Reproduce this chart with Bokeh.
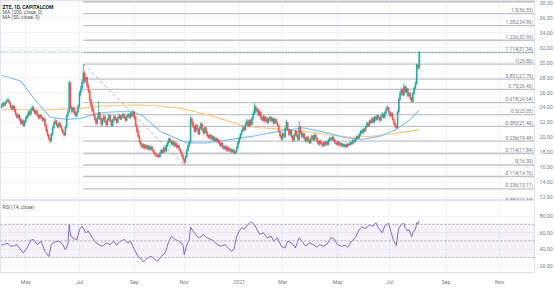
from bokeh.plotting import figure
from bokeh.layouts import column
from bokeh.models import ColumnDataSource, FixedTicker, PrintfTickFormatter, Range1d, Span, BoxAnnotation, Label
from bokeh.core.properties import value
from bokeh.embed import file_html
from bokeh.resources import INLINE

# ---------------- data ----------------
first_open = 24.0
closes = [
    24.2,24.6,24.3,24.7,24.9,25.0,24.6,24.1,23.8,24.2,
    23.6,23.1,22.7,23.0,22.4,21.9,22.2,21.6,22.1,22.6,
    22.9,23.4,23.1,23.7,24.0,23.6,23.2,23.5,22.9,22.6,
    23.0,22.7,22.3,22.5,21.6,20.9,20.3,19.8,19.5,20.4,
    21.3,21.9,22.2,21.7,21.4,21.9,21.5,21.0,20.6,20.3,
    21.4,22.9,23.4,27.3,24.0,23.5,23.9,23.2,22.9,23.4,
    24.2,25.9,26.5,27.4,28.6,27.6,28.0,26.9,26.2,25.0,
    24.3,23.6,23.0,22.4,21.9,22.6,23.3,22.5,21.8,22.3,
    22.8,22.1,21.7,22.4,22.9,22.2,21.6,22.3,22.8,22.4,
    22.0,22.6,22.9,22.5,22.8,23.1,22.6,22.3,22.8,23.0,
    22.7,23.2,22.9,23.4,22.6,21.6,20.8,20.1,19.4,19.0,
    18.7,19.0,18.6,18.9,18.5,18.8,18.4,18.7,18.3,18.0,
    17.8,17.5,17.6,17.4,17.9,18.3,18.0,18.6,18.2,18.9,
    19.3,19.8,19.5,19.1,19.4,18.9,19.2,18.7,18.9,18.4,
    18.1,17.6,17.1,16.7,17.4,18.3,18.9,19.4,22.5,22.0,
    21.4,20.8,21.6,21.1,20.5,21.2,21.8,21.0,20.6,21.3,
    20.7,20.2,20.0,20.3,19.8,20.1,19.6,19.9,19.5,19.7,
    19.3,18.9,19.2,18.7,18.5,18.8,18.3,18.6,18.2,18.4,
    18.1,18.3,17.9,18.0,18.6,19.3,19.9,20.4,20.9,21.3,
    21.0,21.8,22.2,21.5,22.3,21.7,22.5,23.2,24.1,23.5,
    23.7,23.0,23.4,22.6,22.3,22.8,22.2,22.6,22.0,22.4,
    22.7,22.2,22.5,21.9,22.4,22.0,21.6,20.8,20.2,19.8,
    20.5,20.1,21.2,22.0,21.0,20.4,20.9,20.1,19.6,20.3,
    20.8,20.2,19.7,21.4,20.6,20.1,20.5,19.8,19.5,20.0,
    19.6,19.3,19.8,20.2,19.7,20.3,19.9,19.4,19.1,19.5,
    19.2,18.9,19.3,19.0,19.4,19.1,19.6,19.9,19.7,20.0,
    19.6,19.3,19.1,19.4,19.0,19.2,18.9,19.1,18.8,19.0,
    18.8,19.1,19.0,19.3,19.2,19.6,19.4,19.8,20.1,19.9,
    20.4,20.8,20.6,21.1,20.9,21.4,21.9,21.6,22.2,22.0,
    22.5,22.1,22.7,22.4,22.9,22.6,22.3,22.8,23.1,22.7,
    23.3,23.8,24.0,23.4,22.9,23.2,22.5,21.9,21.5,21.3,
    23.4,25.1,25.9,26.4,25.7,26.8,26.1,26.5,25.6,25.9,
    25.2,24.8,25.9,26.6,27.2,29.7,29.3,31.4,
]
highs = [
    24.5,24.8,24.7,24.9,25.1,25.3,25.1,24.7,24.3,24.4,
    24.3,23.8,23.3,23.2,23.1,22.6,22.5,22.4,22.3,22.8,
    23.1,23.6,23.6,23.9,24.3,24.2,23.8,23.7,23.6,23.1,
    23.2,23.1,22.8,22.7,22.6,21.8,21.1,20.5,20.0,20.6,
    21.5,22.1,22.5,22.3,21.9,22.1,22.0,21.6,21.1,20.8,
    21.6,23.1,23.7,27.6,27.4,24.3,24.1,24.0,23.5,23.6,
    24.4,26.2,26.9,27.8,29.8,28.9,28.4,28.1,27.2,26.4,
    25.3,24.6,23.9,23.2,22.6,22.9,24.9,23.4,22.7,22.6,
    23.1,22.9,22.3,22.6,23.2,23.1,22.4,22.5,23.0,22.9,
    22.6,22.8,23.2,23.0,23.0,23.3,23.2,22.8,23.0,23.3,
    23.2,23.4,23.3,23.6,23.5,22.8,21.8,21.0,20.3,19.6,
    19.2,19.2,19.1,19.1,19.0,19.0,18.9,18.9,18.8,18.4,
    18.2,17.9,17.8,17.7,18.1,18.5,18.4,18.8,18.7,19.1,
    19.5,20.0,19.9,19.6,19.6,19.5,19.4,19.3,19.1,19.0,
    18.5,18.2,17.7,17.2,17.6,18.5,19.1,19.6,22.9,22.7,
    22.2,21.6,21.8,21.8,21.3,21.4,22.0,22.0,21.2,21.5,
    21.4,20.9,20.4,20.5,20.4,20.3,20.2,20.1,20.0,19.9,
    19.8,19.5,19.4,19.3,18.9,19.0,18.9,18.8,18.7,18.6,
    18.5,18.5,18.4,18.2,18.8,19.5,20.1,20.6,21.1,21.6,
    21.5,22.0,22.5,22.3,22.5,22.4,22.7,23.5,24.6,24.3,
    24.0,23.9,23.6,23.5,22.8,23.0,22.9,22.8,22.7,22.6,
    22.9,22.8,22.7,22.6,22.6,22.5,22.1,21.7,20.9,20.4,
    20.7,20.6,21.4,22.4,22.1,21.2,21.1,21.0,20.3,20.5,
    21.0,20.9,20.4,22.2,21.5,20.8,20.7,20.6,20.0,20.2,
    20.2,19.8,20.0,20.4,20.3,20.5,20.4,20.0,19.6,19.7,
    19.7,19.3,19.5,19.4,19.6,19.5,19.8,20.1,20.0,20.2,
    20.1,19.8,19.4,19.6,19.5,19.3,19.3,19.2,19.2,19.1,
    19.1,19.3,19.2,19.5,19.4,19.8,19.7,20.0,20.3,20.2,
    20.6,21.0,21.0,21.3,21.2,21.6,22.1,22.0,22.4,22.4,
    22.8,22.7,22.9,22.9,23.1,23.0,22.8,23.0,23.4,23.2,
    23.5,24.0,24.3,24.1,23.5,23.4,23.3,22.6,22.1,21.7,
    23.6,25.3,26.2,26.7,26.5,27.3,26.9,26.8,26.6,26.1,
    26.0,25.4,26.1,26.8,27.5,29.9,29.8,31.6,
]
lows = [
    23.9,24.0,24.1,24.2,24.5,24.7,24.4,23.9,23.6,23.7,
    23.4,22.9,22.5,22.5,22.2,21.7,21.7,21.4,21.4,21.9,
    22.4,22.7,22.9,22.9,23.5,23.4,23.0,23.0,22.7,22.4,
    22.4,22.5,22.1,22.1,21.4,20.7,20.1,19.6,19.2,19.4,
    20.2,21.1,21.7,21.5,21.2,21.2,21.3,20.8,20.4,20.1,
    20.2,21.2,22.7,23.2,23.8,23.2,23.3,23.0,22.7,22.7,
    23.2,24.0,25.5,26.2,27.1,27.2,27.3,26.6,25.9,24.8,
    24.1,23.4,22.8,22.2,21.6,21.7,22.4,22.3,21.5,21.6,
    22.1,21.9,21.4,21.5,22.2,22.0,21.4,21.4,22.1,22.2,
    21.8,21.9,22.4,22.3,22.3,22.6,22.4,22.1,22.1,22.6,
    22.5,22.5,22.7,22.7,22.4,21.4,20.6,19.9,19.2,18.8,
    18.5,18.5,18.4,18.4,18.3,18.3,18.2,18.2,18.1,17.8,
    17.6,17.3,17.3,17.2,17.3,17.7,17.8,17.9,18.0,18.0,
    18.7,19.1,19.3,18.9,18.9,18.7,18.7,18.5,18.5,18.2,
    17.9,17.4,16.9,16.3,16.5,17.2,18.1,18.7,19.2,21.6,
    21.2,20.6,20.6,20.9,20.3,20.3,21.0,20.8,20.4,20.4,
    20.5,20.0,19.8,19.8,19.6,19.6,19.4,19.4,19.3,19.3,
    19.1,18.7,18.7,18.5,18.3,18.3,18.1,18.1,18.0,18.0,
    17.9,17.9,17.7,17.7,17.9,18.4,19.1,19.7,20.2,20.7,
    20.8,20.9,21.6,21.3,21.4,21.5,21.6,22.3,23.0,23.2,
    23.3,22.8,22.8,22.4,22.1,22.1,22.0,22.0,21.8,21.8,
    22.2,22.0,22.0,21.7,21.7,21.8,21.4,20.6,20.0,19.6,
    19.6,19.9,19.9,21.0,20.8,20.2,20.2,19.9,19.4,19.4,
    20.1,20.0,19.5,19.6,20.4,19.9,19.9,19.6,19.3,19.3,
    19.4,19.1,19.1,19.6,19.5,19.5,19.7,19.2,18.9,18.9,
    19.0,18.7,18.7,18.8,18.8,18.9,18.9,19.4,19.5,19.5,
    19.4,19.1,18.9,18.9,18.8,18.8,18.7,18.7,18.6,18.6,
    18.6,18.6,18.8,18.9,19.0,19.0,19.2,19.3,19.6,19.7,
    19.8,20.2,20.4,20.4,20.7,20.7,21.2,21.4,21.4,21.8,
    21.8,21.9,21.9,22.2,22.2,22.4,22.1,22.1,22.6,22.5,
    22.5,23.1,23.6,23.2,22.7,22.7,22.3,21.7,21.3,21.0,
    21.2,23.2,24.9,25.6,25.5,25.5,25.9,25.9,25.4,25.4,
    25.0,24.6,24.7,25.7,26.4,27.0,29.0,29.1,
]

ma200_idx = [0, 33, 62, 77, 95, 109, 125, 140, 155, 171, 187, 202, 210, 236, 255, 275, 290, 302, 315, 327]
ma200_val = [23.75, 23.65, 23.88, 24.19, 24.30, 24.33, 24.20, 23.88, 23.30, 22.54, 21.64, 21.28, 21.20, 20.83, 20.35, 20.02, 20.15, 20.39, 20.70, 21.00]

ma50_idx = [0, 15, 25, 38, 51, 62, 77, 101, 111, 124, 145, 161, 181, 197, 210, 218, 236, 255, 270, 283, 296, 309, 320, 327]
ma50_val = [28.32, 27.55, 25.30, 22.71, 22.40, 22.54, 23.30, 23.52, 22.85, 20.83, 19.26, 19.26, 19.76, 20.16, 20.60, 20.83, 21.28, 20.60, 19.93, 19.72, 20.16, 21.06, 22.40, 23.65]

rsi_idx = [0,3,5,7,10,12,14,17,20,23,25,28,31,34,37,39,42,45,48,50,52,53,54,56,59,61,63,66,68,71,
           74,77,79,82,85,88,90,93,96,99,101,104,107,110,111,114,117,119,122,125,128,131,133,136,139,142,143,145,147,148,
           150,153,155,158,161,164,166,169,172,175,177,180,182,184,186,188,190,193,195,198,200,202,205,208,211,213,216,219,222,224,
           227,230,233,236,238,241,244,247,249,252,255,258,260,263,266,269,271,274,277,280,282,285,288,291,293,295,298,300,303,305,
           307,309,310,311,313,315,316,318,319,321,322,324,325,326,327]
rsi_val = [44.7,46.3,47.0,43.5,44.0,45.5,41.4,35.3,41.4,50.8,51.6,45.5,49.6,37.3,31.2,45.5,48.8,49.6,45.5,39.4,46.0,70.0,57.0,53.0,51.6,63.9,67.6,59.8,61.8,53.7,
           47.6,44.7,43.5,47.6,45.5,49.6,44.7,49.6,51.6,47.6,49.6,39.4,31.2,27.1,24.3,29.2,31.2,29.2,25.1,31.2,35.3,49.6,55.7,51.6,49.6,45.5,33.3,45.0,52.0,66.7,
           61.8,55.7,53.7,57.8,53.7,51.6,49.6,45.5,43.5,45.5,42.2,37.3,40.0,55.0,61.8,65.9,63.9,70.0,72.9,70.0,63.9,57.8,59.8,53.7,55.7,49.6,53.7,43.5,41.4,49.6,
           47.6,41.4,53.7,47.6,43.5,47.6,45.5,42.2,45.5,43.5,46.3,53.7,52.9,45.5,43.5,44.7,42.2,49.6,53.7,63.9,66.7,65.1,69.2,67.6,72.0,65.9,59.8,68.0,71.2,60.0,
           50.0,44.5,56.0,65.0,70.0,71.0,66.0,62.0,63.5,55.0,60.0,64.0,72.0,70.0,74.5]
rsi_levels = [30, 50, 70]

fib_start_idx, fib_high = 64, 29.80
fib_end_idx, fib_low = 143, 16.30
fib_prices = [38.14, 36.55, 34.96, 32.99, 31.34, 29.80, 27.79, 26.43, 24.64, 23.05, 21.46, 19.49, 17.84, 16.30, 14.76, 13.11, 11.14]
fib_texts = ["1.618(38.14)", "1.5(36.55)", "1.382(34.96)", "1.236(32.99)", "1.114(31.34)", "1(29.80)",
             "0.851(27.79)", "0.75(26.43)", "0.618(24.64)", "0.5(23.05)", "0.382(21.46)", "0.236(19.49)",
             "0.114(17.84)", "0(16.30)", "-0.114(14.76)", "-0.236(13.11)", "-0.382(11.14)"]

price_ticks = [12, 14, 16, 18, 20, 22, 24, 26, 28, 30, 32, 34, 36, 38]
rsi_ticks = [20, 40, 60, 80]
month_idx = [19, 61, 104, 143, 186, 220, 263, 304, 348, 390]
month_labels = ["May", "Jul", "Sep", "Nov", "2021", "Mar", "May", "Jul", "Sep", "Nov"]

# ---------------- styling ----------------
FONT = "Roboto"
UP, DOWN = "#26a69a", "#ef5350"
GRID = "#f0f3fa"
AXIS_TXT = "#7a7d86"
X_LO, X_HI = -0.8, 417.2

n = min(len(closes), len(highs), len(lows))
closes, highs, lows = closes[:n], highs[:n], lows[:n]
opens = [first_open] + closes[:-1]
idx = list(range(n))
colors = [UP if c >= o else DOWN for o, c in zip(opens, closes)]
src = ColumnDataSource(dict(
    x=idx, o=opens, h=highs, l=lows, c=closes,
    top=[max(o, c) for o, c in zip(opens, closes)],
    bot=[min(o, c) for o, c in zip(opens, closes)],
    col=colors))

def style_axis(ax):
    ax.axis_line_color = None
    ax.major_tick_line_color = None
    ax.minor_tick_line_color = None
    ax.major_tick_out = 0
    ax.major_tick_in = 0
    ax.minor_tick_out = 0
    ax.minor_tick_in = 0
    ax.major_label_text_font = FONT
    ax.major_label_text_font_size = "5.3px"
    ax.major_label_text_color = AXIS_TXT

def style_common(fig):
    fig.xgrid.ticker = FixedTicker(ticks=month_idx)
    fig.xgrid.grid_line_color = GRID
    fig.ygrid.grid_line_color = GRID
    style_axis(fig.yaxis[0])
    fig.yaxis.major_label_standoff = 5
    fig.yaxis.formatter = PrintfTickFormatter(format="%.2f")

# ---------------- main price pane ----------------
p = figure(frame_width=534, frame_height=200, x_range=Range1d(X_LO, X_HI), y_range=Range1d(11.55, 38.31),
           output_backend="svg", toolbar_location=None, x_axis_location=None, y_axis_location="right",
           min_border_left=0, min_border_right=20, min_border_top=0, min_border_bottom=0,
           outline_line_color="#e0e3eb", background_fill_color="white", border_fill_color="white")
style_common(p)
p.yaxis.ticker = FixedTicker(ticks=price_ticks)

# fib levels
p.segment(x0=[fib_start_idx] * len(fib_prices), x1=[X_HI + 5] * len(fib_prices),
          y0=fib_prices, y1=fib_prices, line_color="#c2c4c9", line_width=1.3)
p.line([fib_start_idx, fib_end_idx], [fib_high, fib_low], line_color="#9598a1", line_width=0.8, line_dash="3 3")
p.text(x=[X_HI - 1.2] * len(fib_prices), y=fib_prices, text=fib_texts,
       text_font=value(FONT), text_font_size=value("4.8px"), text_color="#787b86",
       text_align="right", text_baseline="bottom", y_offset=-0.6)

# last price line
p.add_layout(Span(location=closes[-1], dimension="width", line_color=UP, line_width=1, line_dash="1 2"))

# moving averages
p.line(ma200_idx, ma200_val, line_color="#f6c77e", line_width=1.1)
p.line(ma50_idx, ma50_val, line_color="#86c0f2", line_width=1.1)

# candles
p.segment(x0="x", x1="x", y0="l", y1="h", line_color="col", line_width=0.8, source=src)
p.vbar(x="x", width=0.75, top="top", bottom="bot", fill_color="col", line_color="col", line_width=0.5, source=src)

for txt, yy, bold, colr in [("ZTE, 1D, CAPITALCOM", 37.50, "bold", "#131722"),
                            ("MA (200, close, 0)", 36.83, "normal", "#555555"),
                            ("MA (50, close, 0)", 36.16, "normal", "#555555")]:
    p.add_layout(Label(x=0.8, y=yy, text=txt, text_font=FONT, text_font_size="5px",
                       text_font_style=bold, text_color=colr, text_baseline="middle"))

# ---------------- RSI pane ----------------
r = figure(frame_width=534, frame_height=72, x_range=p.x_range, y_range=Range1d(11.75, 98.8),
           output_backend="svg", toolbar_location=None, y_axis_location="right",
           min_border_left=0, min_border_right=20, min_border_top=0, min_border_bottom=16,
           outline_line_color="#e0e3eb", background_fill_color="white", border_fill_color="white")
style_common(r)
r.yaxis.ticker = FixedTicker(ticks=rsi_ticks)
r.xaxis.ticker = FixedTicker(ticks=month_idx)
r.xaxis.major_label_overrides = {m: lab for m, lab in zip(month_idx, month_labels)}
style_axis(r.xaxis[0])
r.xaxis.major_label_standoff = 6

r.add_layout(BoxAnnotation(bottom=rsi_levels[0], top=rsi_levels[2], fill_color="#7e57c2", fill_alpha=0.08,
                           line_alpha=0))
for lv in rsi_levels:
    r.add_layout(Span(location=lv, dimension="width", line_color="#a3a6ae", line_width=1, line_dash="2 2"))
r.line(rsi_idx, rsi_val, line_color="#7e57c2", line_width=0.9)
r.add_layout(Label(x=0.8, y=91.5, text="RSI (14, close)", text_font=FONT, text_font_size="5px",
                   text_color="#555555", text_baseline="middle"))

layout = column(p, r, spacing=0)
open("out.html", "w").write(file_html(layout, INLINE))
